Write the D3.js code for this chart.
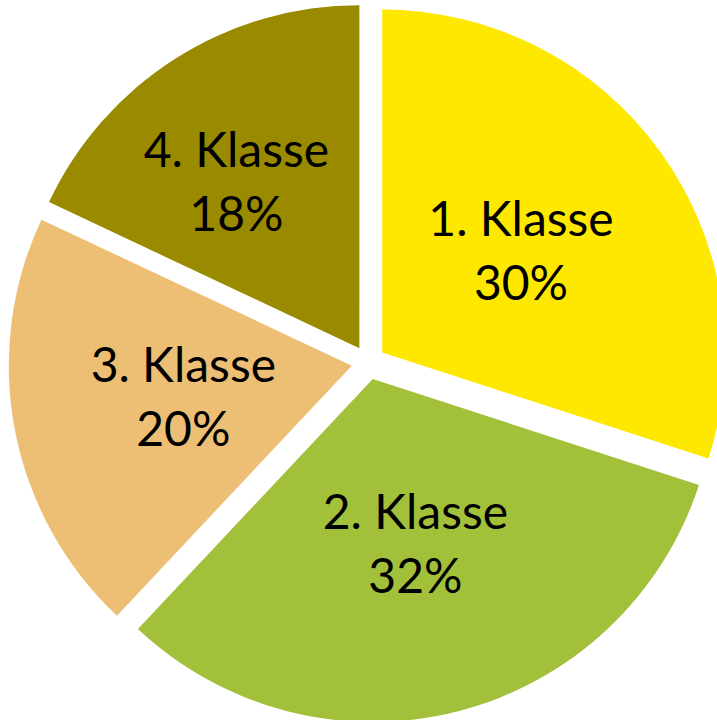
<!DOCTYPE html>
<html>
<head>
<meta charset="utf-8">
<script src="https://cdn.jsdelivr.net/npm/d3@7"></script>
<style>
  body { margin: 0; background: #fff; }
  svg { display: block; }
</style>
</head>
<body>
<div id="wrapper"></div>
<script>
const categories = ['1. Klasse', '2. Klasse', '3. Klasse', '4. Klasse'];
const values = [30, 32, 20, 18];
const percentLabels = ['30%', '32%', '20%', '18%'];
const colors = ['#FFE800', '#A3C03B', '#EDBF75', '#9A8A00'];

function drawPie() {
  const dimensions = {
    width: 717,
    height: 720,
    centerX: 368.5,
    centerY: 362.5,
    radius: 343,
    explode: 17,
    lineHeight: 64,
  };

  const dataset = categories.map((name, i) => ({
    name,
    value: values[i],
    label: percentLabels[i],
    color: colors[i],
  }));

  const wrapper = d3
    .select('#wrapper')
    .append('svg')
    .attr('width', dimensions.width)
    .attr('height', dimensions.height);

  const bounds = wrapper
    .append('g')
    .attr('transform', `translate(${dimensions.centerX}, ${dimensions.centerY})`);

  const pie = d3.pie().sort(null).value((d) => d.value);
  const arc = d3.arc().innerRadius(0).outerRadius(dimensions.radius);

  // the narrow 4th slice gets its label pushed a bit further out (best fit)
  const labelRadius = (i) => (i === 3 ? 0.6 : 0.5) * dimensions.radius;
  const labelNudge = (i) => (i === 3 ? -0.075 : 0);

  const slices = bounds
    .selectAll('.slice')
    .data(pie(dataset))
    .join('g')
    .attr('class', 'slice')
    .attr('transform', (d) => {
      // push every slice out along its bisector
      const mid = (d.startAngle + d.endAngle) / 2;
      const dx = Math.sin(mid) * dimensions.explode;
      const dy = -Math.cos(mid) * dimensions.explode;
      return `translate(${dx}, ${dy})`;
    });

  slices
    .append('path')
    .attr('d', arc)
    .style('fill', (d) => d.data.color);

  const labels = slices
    .append('text')
    .attr('transform', (d, i) => {
      const mid = (d.startAngle + d.endAngle) / 2 + labelNudge(i);
      const r = labelRadius(i);
      return `translate(${Math.sin(mid) * r}, ${-Math.cos(mid) * r})`;
    })
    .attr('text-anchor', 'middle')
    .style('font-family', 'Lato, "Open Sans", sans-serif')
    .style('font-size', '48px')
    .style('fill', '#000');

  labels
    .append('tspan')
    .attr('x', 0)
    .attr('y', -16)
    .text((d) => d.data.name);

  labels
    .append('tspan')
    .attr('x', 0)
    .attr('y', -16 + dimensions.lineHeight)
    .text((d) => d.data.label);
}

drawPie();
</script>
</body>
</html>
